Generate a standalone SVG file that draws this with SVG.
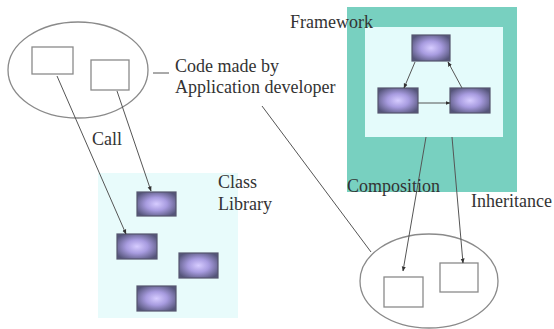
<svg xmlns="http://www.w3.org/2000/svg" width="554" height="329" viewBox="0 0 554 329">
<style>
.lbl{font-family:"Liberation Serif","Times New Roman",serif;font-size:18px;fill:#333;}
.oval{fill:none;stroke:#8a8a8a;stroke-width:1.3;}
.wbox{fill:#fff;stroke:#8a8a8a;stroke-width:1.3;}
.cls{fill:url(#pg);stroke:#55556e;stroke-width:1.2;}
.ln{fill:none;stroke:#555;stroke-width:1;}
</style>
<defs>
<radialGradient id="pg" cx="0.5" cy="0.5" r="0.6">
<stop offset="0" stop-color="#d6ccff"/>
<stop offset="0.45" stop-color="#a89ce0"/>
<stop offset="1" stop-color="#55557a"/>
</radialGradient>
<marker id="ah" viewBox="0 0 10 10" refX="9" refY="5" markerWidth="5" markerHeight="5" orient="auto" markerUnits="userSpaceOnUse">
<path d="M0,1 L10,5 L0,9 z" fill="#333"/>
</marker>
</defs>
<rect width="554" height="329" fill="#fff"/>
<g id="framework">
<rect x="347" y="7" width="170" height="185" fill="#78d0c0"/>
<rect x="365" y="27" width="138" height="110" fill="#e4fbfb"/>
</g>
<g id="class-library">
<rect x="98" y="173" width="140" height="145" fill="#e8fbfb"/>
</g>
<g id="app-code-top">
<ellipse class="oval" cx="78" cy="70" rx="70" ry="48"/>
<rect class="wbox" x="32" y="47" width="41" height="27"/>
<rect class="wbox" x="91" y="60" width="38" height="30"/>
</g>
<g id="app-code-bottom">
<ellipse class="oval" cx="429" cy="281" rx="69" ry="47"/>
<rect class="wbox" x="384" y="277" width="39" height="30"/>
<rect class="wbox" x="440" y="263" width="38" height="29"/>
</g>
<g id="fw-top"><rect class="cls" x="412" y="35" width="38" height="26"/></g>
<g id="fw-left"><rect class="cls" x="378" y="88" width="40" height="25"/></g>
<g id="fw-right"><rect class="cls" x="450" y="88" width="40" height="25"/></g>
<g id="lib-a"><rect class="cls" x="137" y="192" width="39" height="24"/></g>
<g id="lib-b"><rect class="cls" x="117" y="234" width="40" height="25"/></g>
<g id="lib-c"><rect class="cls" x="179" y="253" width="39" height="25"/></g>
<g id="lib-d"><rect class="cls" x="137" y="286" width="39" height="25"/></g>
<g id="connectors">
<line class="ln" x1="57" y1="76" x2="126" y2="234" marker-end="url(#ah)"/>
<line class="ln" x1="117" y1="91" x2="151" y2="191" marker-end="url(#ah)"/>
<line class="ln" x1="153" y1="73" x2="169" y2="73" stroke-width="1.5"/>
<line class="ln" x1="262" y1="106" x2="371" y2="252"/>
<line class="ln" x1="415" y1="62" x2="404" y2="88" marker-end="url(#ah)"/>
<line class="ln" x1="462" y1="88" x2="448" y2="62" marker-end="url(#ah)"/>
<line class="ln" x1="418" y1="103" x2="450" y2="103" marker-end="url(#ah)"/>
<line class="ln" x1="426" y1="137" x2="403" y2="271" marker-end="url(#ah)"/>
<line class="ln" x1="452" y1="137" x2="463" y2="263" marker-end="url(#ah)"/>
</g>
<g id="labels">
<text class="lbl" x="175" y="72">Code made by</text>
<text class="lbl" x="175" y="93">Application developer</text>
<text class="lbl" x="290" y="28">Framework</text>
<text class="lbl" x="92" y="145">Call</text>
<text class="lbl" x="218" y="188">Class</text>
<text class="lbl" x="218" y="210">Library</text>
<text class="lbl" x="347" y="192">Composition</text>
<text class="lbl" x="471" y="207">Inheritance</text>
</g>
</svg>
